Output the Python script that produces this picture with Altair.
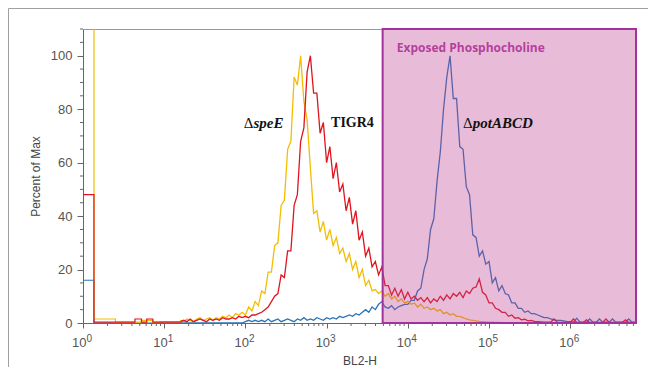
import altair as alt
import pandas as pd

# ---------------- data ----------------
# Low channel bins (log10 of BL2-H, left edges)
LOW_EDGES = [0.0, 0.135, 0.40, 0.64, 0.72, 0.785, 0.86, 0.95]
LOW_YELLOW = [130, 1.5, 0.3, 0.3, 1.0, 1.0, 0.3, 0.5]
LOW_RED = [48, 0.3, 0.3, 1.5, 0.3, 1.5, 0.3, 0.3]
LOW_BLUE = [16, 0, 0, 0, 0, 0, 0, 0]

# Main channels: log10 from 1.20 in steps of 0.04 (140 points)
GRID_START = 1.20
GRID_STEP = 0.04
LAST_EDGE = 6.81

YELLOW = [  # delta speE
    1.0, 0.5, 1.5, 1.0, 0.5, 1.5, 2.0, 1.0, 1.5, 2.0,
    1.0, 2.0, 1.5, 2.5, 2.0, 3.0, 2.0, 3.5, 3.0, 4.0,
    3, 6, 4.5, 8, 6.5, 12, 11, 19, 19, 29,
    30, 44, 46, 65, 68, 92, 89, 100, 83, 76,
    58, 41, 42, 34, 38, 31, 35, 29, 32, 26,
    28, 23, 26, 20, 23, 17, 20, 14, 16, 12,
    12.5, 11, 12, 10, 11, 9, 10, 8, 9, 7.5,
    8, 7, 7.5, 6, 7, 5.5, 6, 5, 5.5, 4.5,
    5, 3.5, 4, 3, 3.5, 2.5, 2.5, 2, 1.5, 1.2,
    1.0, 0.8, 0.6, 0.5, 0.4, 0.3, 0.3, 0.2, 0.2, 0.1,
    0.1, 0.1, 0.1, 0.1, 0.1, 0.1, 0.1, 0.1, 0.1, 0.1,
    0.1, 0.1, 0.1, 0.1, 0.1, 0.1, 0.1, 0.1, 0.1, 0.1,
    0.1, 0.1, 0.1, 0.1, 0.1, 0.1, 0.1, 0.1, 0.1, 0.1,
    0.1, 0.1, 0.1, 0.1, 0.1, 0.1, 0.1, 0.1, 0.1, 0.1,
]
RED = [  # TIGR4
    0.5, 1.0, 0.5, 1.5, 0.5, 1.0, 1.5, 1.0, 0.5, 1.5,
    1.0, 1.5, 1.0, 2.0, 1.5, 1.5, 2.0, 1.5, 2.5, 2.0,
    2.5, 2.0, 3.0, 3.0, 3.5, 4.0, 5.0, 6.0, 8.0, 10,
    11, 18, 17, 27, 27, 44, 48, 68, 73, 94,
    100, 86, 86, 71, 75, 60, 66, 54, 60, 49,
    52, 42, 47, 37, 42, 31, 34, 25, 28, 21,
    23, 18, 21, 14, 14, 10.5, 13, 10, 12.5, 9,
    11.5, 9, 10, 8.5, 9.5, 8, 9.5, 7.5, 9, 8,
    10, 8.5, 10.5, 9, 11, 10, 11.5, 9.5, 12, 11,
    13, 13.5, 16.5, 11.5, 10.5, 7.5, 7.5, 5.5, 5, 4,
    4, 2.5, 3, 1.8, 2, 1.2, 1.4, 0.8, 1, 0.6,
    0.5, 0.4, 0.3, 0.3, 0.3, 1.5, 0.3, 0.2, 0.2, 0.2,
    0.2, 1.5, 0.2, 0.2, 0.2, 1.2, 0.2, 0.2, 0.2, 0.2,
    0.2, 1.5, 0.2, 0.2, 0.2, 0.2, 0.2, 1.2, 0.2, 0.2,
]
BLUE = [  # delta potABCD
    0, 0, 0, 0, 0, 0, 0, 0, 0, 0,
    0, 0, 0, 0, 0, 0, 0, 0, 0, 0,
    0.5, 1.0, 0.5, 1.0, 0.5, 1.0, 0.5, 1.5, 0.5, 1.0,
    1.5, 0.5, 1.0, 1.5, 1.0, 0.5, 1.5, 1.0, 2.0, 1.0,
    1.5, 1.0, 2.0, 1.5, 1.0, 2.0, 1.5, 2.0, 1.5, 2.5,
    2.0, 2.5, 3.0, 2.5, 3.5, 3.0, 4.0, 5.0, 4.0, 6.0,
    5.0, 7.0, 8.0, 6.0, 5.5, 6.5, 5.0, 6.0, 6.5, 7.0,
    7, 8.5, 8.5, 12, 13, 20, 24, 35, 39, 53,
    64, 80, 92, 100, 84, 84, 66, 65, 51, 48,
    33, 32, 25, 27, 22, 23, 15, 17, 12, 14,
    11, 10.5, 7.5, 7.5, 5.5, 5.5, 4, 4.5, 3.5, 3.5,
    3, 2.5, 2, 2, 1.5, 1.2, 1, 1, 0.8, 0.5,
    0.5, 0.3, 1.8, 0.3, 0.3, 0.3, 1.5, 0.3, 0.3, 1.5,
    0.3, 0.3, 0.3, 1.5, 0.3, 0.3, 0.3, 0.3, 1.5, 0.3,
]

SERIES = ["ΔpotABCD", "ΔspeE", "TIGR4"]
COLORS = {"ΔpotABCD": "#2a74b6", "ΔspeE": "#f3bd00", "TIGR4": "#e0141e"}

# gate ("Exposed Phosphocholine") in log10 units
GATE_LOG = [3.69, 6.81]
GATE_LABEL = "Exposed Phosphocholine"

X_TICKS = [1, 10, 100, 1000, 10000, 100000, 1000000]
X_EXPONENTS = ["0", "1", "2", "3", "4", "5", "6"]
Y_TICKS = [0, 20, 40, 60, 80, 100]
Y_MINOR = [5, 10, 15, 25, 30, 35, 45, 50, 55, 65, 70, 75, 85, 90, 95, 105, 110]

# label anchors: (log10 x, percent)
LBL_DELTA_X = [2.10, 4.80]
LBL_ITALIC = ["speE", "potABCD"]
LBL_TIGR_X = 3.055
LBL_Y = 75
GATE_LABEL_X = 3.865
GATE_LABEL_Y = 103

# ---------------- build tables ----------------
assert len(YELLOW) == len(RED) == len(BLUE) == 140
grid = [round(GRID_START + GRID_STEP * i, 2) for i in range(len(YELLOW))]

low_tables = {}
main_tables = {}
for name, low, main in [("ΔpotABCD", LOW_BLUE, BLUE), ("ΔspeE", LOW_YELLOW, YELLOW), ("TIGR4", LOW_RED, RED)]:
    low_edges = LOW_EDGES + [GRID_START]
    low_vals = low + [main[0]]
    low_tables[name] = pd.DataFrame({"x": [10 ** e for e in low_edges], "pct": low_vals})
    main_tables[name] = pd.DataFrame({"x": [10 ** e for e in grid + [LAST_EDGE]], "pct": main + [main[-1]]})

XMAX = 10 ** LAST_EDGE
XSCALE = alt.Scale(type="log", domain=[1, XMAX], nice=False)
YSCALE = alt.Scale(domain=[0, 110], nice=False, zero=True)

XAXIS = alt.Axis(
    values=X_TICKS,
    labelExpr="'10'",
    labelAlign="right",
    labelOffset=3,
    title="BL2-H",
    grid=False,
    tickSize=5,
    labelPadding=8,
    titlePadding=6,
    labelFontSize=13,
    titleFontSize=12,
    labelColor="#555555",
    titleColor="#444444",
    domainColor="#666666",
    tickColor="#666666",
    labelFlush=False,
    labelOverlap=False,
    labelFont="Liberation Sans",
    titleFont="Liberation Sans",
    titleFontWeight="normal",
)
YAXIS = alt.Axis(
    values=Y_TICKS,
    title="Percent of Max",
    grid=False,
    tickSize=6,
    labelPadding=5,
    titlePadding=8,
    labelFontSize=13,
    titleFontSize=12,
    labelColor="#555555",
    titleColor="#444444",
    domainColor="#666666",
    tickColor="#666666",
    labelFont="Liberation Sans",
    titleFont="Liberation Sans",
    titleFontWeight="normal",
)


def X(field):
    return alt.X(f"{field}:Q", scale=XSCALE, axis=XAXIS)


def Y(field):
    return alt.Y(f"{field}:Q", scale=YSCALE, axis=YAXIS)


layers = []
for name in SERIES:
    layers.append(
        alt.Chart(low_tables[name])
        .mark_line(interpolate="step-after", color=COLORS[name], strokeWidth=1.2, clip=True)
        .encode(x=X("x"), y=Y("pct"))
    )
for name in SERIES:
    layers.append(
        alt.Chart(main_tables[name])
        .mark_line(interpolate="linear", color=COLORS[name], strokeWidth=1.3, clip=True)
        .encode(x=X("x"), y=Y("pct"))
    )

# gate rectangle drawn on top (translucent)
gate_df = pd.DataFrame({"x": [10 ** GATE_LOG[0]], "x2": [10 ** GATE_LOG[1]], "y": [0], "y2": [110]})
gate = alt.Chart(gate_df).mark_rect(
    fill="#bd4090", fillOpacity=0.35, stroke="#a2329a", strokeWidth=2, strokeOpacity=1
).encode(x=X("x"), x2="x2", y=Y("y"), y2="y2")

gate_text = alt.Chart(pd.DataFrame({"x": [10 ** GATE_LABEL_X], "y": [GATE_LABEL_Y], "t": [GATE_LABEL]})).mark_text(
    align="left", baseline="middle", font="Open Sans", fontWeight="bold", fontSize=12, color="#b5409e"
).encode(x=X("x"), y=Y("y"), text="t:N")

delta_df = pd.DataFrame({"x": [10 ** v for v in LBL_DELTA_X], "y": [LBL_Y] * 2, "t": ["Δ", "Δ"]})
italic_df = pd.DataFrame({"x": [10 ** v for v in LBL_DELTA_X], "y": [LBL_Y] * 2, "t": LBL_ITALIC})
tigr_df = pd.DataFrame({"x": [10 ** LBL_TIGR_X], "y": [LBL_Y], "t": ["TIGR4"]})

delta_txt = alt.Chart(delta_df).mark_text(
    align="right", baseline="middle", font="Liberation Serif", fontSize=15, color="#111111"
).encode(x=X("x"), y=Y("y"), text="t:N")
italic_txt = alt.Chart(italic_df).mark_text(
    align="left", baseline="middle", font="Liberation Serif", fontSize=15, fontWeight="bold",
    fontStyle="italic", color="#111111"
).encode(x=X("x"), y=Y("y"), text="t:N")
tigr_txt = alt.Chart(tigr_df).mark_text(
    align="left", baseline="middle", font="Liberation Serif", fontSize=14, fontWeight="bold", color="#111111"
).encode(x=X("x"), y=Y("y"), text="t:N")

# exponent (superscript) part of the x tick labels
exp_txt = alt.Chart(pd.DataFrame({"x": X_TICKS, "t": X_EXPONENTS})).mark_text(
    align="left", baseline="alphabetic", dx=3.5, font="Liberation Sans", fontSize=10, color="#555555"
).encode(x=X("x"), y=alt.value(313), text="t:N")

# minor ticks
x_minor_vals = [k * 10 ** d for d in range(0, 7) for k in range(2, 10) if k * 10 ** d <= XMAX]
x_minor = alt.Chart(pd.DataFrame({"v": x_minor_vals})).mark_rule(color="#666666", strokeWidth=1).encode(
    x=X("v"), y=alt.value(294), y2=alt.value(297)
)
y_minor = alt.Chart(pd.DataFrame({"v": Y_MINOR})).mark_rule(color="#666666", strokeWidth=1).encode(
    y=Y("v"), x=alt.value(-3), x2=alt.value(0)
)

# outer figure frame
frame_left = alt.Chart(alt.Data(values=[{}])).mark_rule(color="#a0a0a0", strokeWidth=1).encode(
    x=alt.value(-74.5), y=alt.value(-20.5), y2=alt.value(345)
)
frame_top = alt.Chart(alt.Data(values=[{}])).mark_rule(color="#a0a0a0", strokeWidth=1).encode(
    y=alt.value(-20.5), x=alt.value(-74.5), x2=alt.value(570)
)

chart = (
    alt.layer(*layers, gate, gate_text, delta_txt, italic_txt, tigr_txt, exp_txt, x_minor, y_minor,
              frame_left, frame_top)
    .properties(
        width=553,
        height=294,
        autosize=alt.AutoSizeParams(type="none"),
        padding={"left": 75, "top": 21, "right": 12, "bottom": 44},
        background="white",
    )
    .configure_view(stroke="#999999", strokeWidth=1)
)

chart.save("out.html", embed_options={"renderer": "svg", "actions": False})
